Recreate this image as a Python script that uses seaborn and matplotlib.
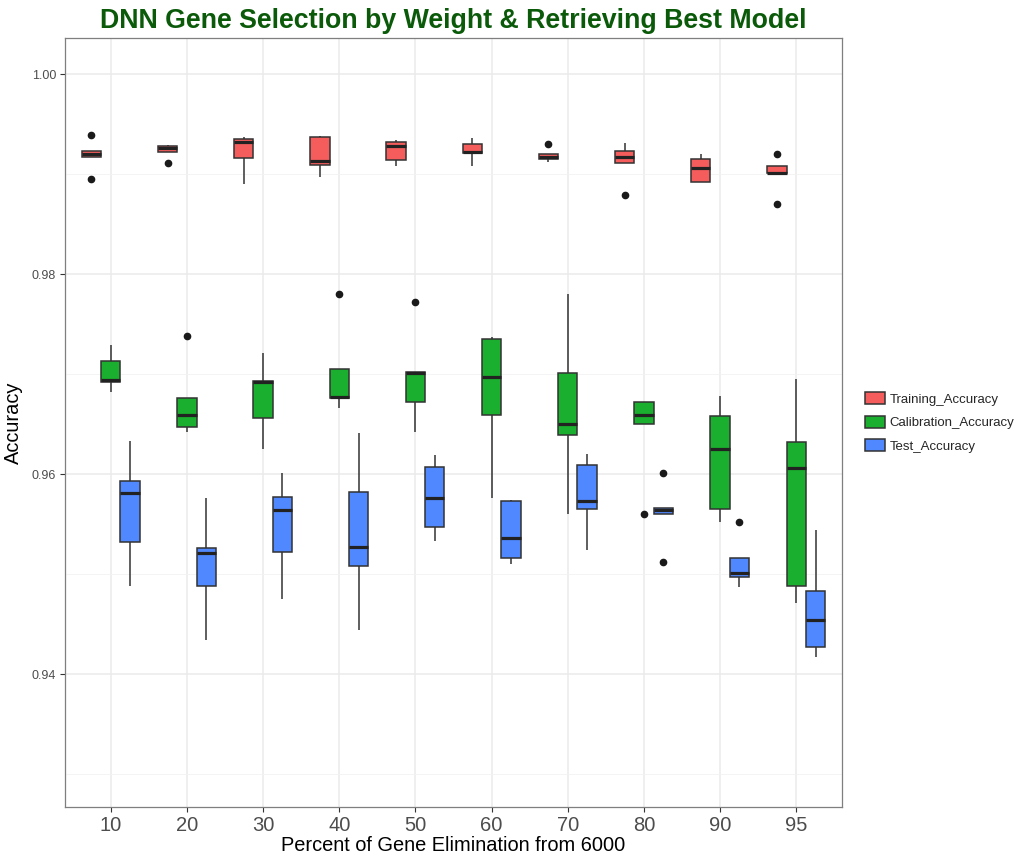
import numpy as np
import pandas as pd
import matplotlib
matplotlib.use("Agg")
import matplotlib.pyplot as plt
import seaborn as sns
from matplotlib.ticker import FixedLocator

categories = ["10", "20", "30", "40", "50", "60", "70", "80", "90", "95"]
metrics = ["Training_Accuracy", "Calibration_Accuracy", "Test_Accuracy"]

training = [
    [0.9895, 0.9917, 0.9920, 0.9923, 0.9939],
    [0.9911, 0.9922, 0.9926, 0.9928, 0.9929],
    [0.9890, 0.9916, 0.9932, 0.9935, 0.9937],
    [0.9897, 0.9909, 0.9913, 0.9937, 0.9938],
    [0.9908, 0.9914, 0.9928, 0.9932, 0.9934],
    [0.9908, 0.9921, 0.9922, 0.9930, 0.9936],
    [0.9912, 0.9915, 0.9917, 0.9920, 0.9930],
    [0.9879, 0.9911, 0.9917, 0.9923, 0.9931],
    [0.9892, 0.9892, 0.9906, 0.9915, 0.9920],
    [0.9870, 0.9901, 0.9901, 0.9908, 0.9920],
]
calibration = [
    [0.9682, 0.9692, 0.9694, 0.9713, 0.9729],
    [0.9642, 0.9647, 0.9659, 0.9676, 0.9738],
    [0.9625, 0.9656, 0.9692, 0.9693, 0.9721],
    [0.9666, 0.9676, 0.9677, 0.9705, 0.9780],
    [0.9642, 0.9672, 0.9701, 0.9702, 0.9772],
    [0.9576, 0.9659, 0.9697, 0.9735, 0.9737],
    [0.9560, 0.9639, 0.9650, 0.9701, 0.9780],
    [0.9560, 0.9650, 0.9659, 0.9672, 0.9672],
    [0.9552, 0.9565, 0.9625, 0.9658, 0.9678],
    [0.9471, 0.9488, 0.9606, 0.9632, 0.9695],
]
test = [
    [0.9488, 0.9532, 0.9581, 0.9593, 0.9633],
    [0.9434, 0.9488, 0.9521, 0.9526, 0.9576],
    [0.9475, 0.9522, 0.9564, 0.9577, 0.9601],
    [0.9444, 0.9508, 0.9527, 0.9582, 0.9641],
    [0.9533, 0.9547, 0.9576, 0.9607, 0.9619],
    [0.9510, 0.9516, 0.9536, 0.9573, 0.9574],
    [0.9524, 0.9565, 0.9573, 0.9609, 0.9620],
    [0.9512, 0.9560, 0.9564, 0.9566, 0.9601],
    [0.9487, 0.9497, 0.9501, 0.9516, 0.9552],
    [0.9417, 0.9427, 0.9454, 0.9483, 0.9544],
]
colors = ["#F45D5C", "#1AAF2E", "#5088FF"]

rows = []
for metric, series in zip(metrics, [training, calibration, test]):
    for cat, vals in zip(categories, series):
        for v in vals:
            rows.append({"Percent": cat, "Accuracy": v, "Metric": metric})
df = pd.DataFrame(rows)

sns.set_style("white")
plt.rcParams["font.family"] = ["Liberation Sans", "DejaVu Sans"]

fig = plt.figure(figsize=(10.32, 8.58), dpi=100)
ax = fig.add_axes([65 / 1032, 1 - 807 / 858, (842 - 65) / 1032, (807 - 38) / 858])

sns.boxplot(
    data=df, x="Percent", y="Accuracy", hue="Metric",
    order=categories, hue_order=metrics, palette=colors,
    width=0.76, gap=0, saturation=1, whis=1.5,
    linecolor="#333333", linewidth=1.1, showcaps=False,
    flierprops=dict(marker="o", markerfacecolor="#1a1a1a",
                    markeredgecolor="#1a1a1a", markersize=4.5),
    medianprops=dict(linewidth=2.3, color="#222222"),
    whiskerprops=dict(color="#333333", linewidth=1.1),
    ax=ax, zorder=3,
)

ax.set_xlim(-0.6, 9.6)
ax.set_ylim(0.9267, 1.0036)
ax.yaxis.set_major_locator(FixedLocator([0.94, 0.96, 0.98, 1.00]))
ax.set_yticklabels(["0.94", "0.96", "0.98", "1.00"])
ax.yaxis.set_minor_locator(FixedLocator([0.93, 0.95, 0.97, 0.99]))
ax.grid(True, which="major", color="#EBEBEB", linewidth=1.1, zorder=0)
ax.grid(True, which="minor", axis="y", color="#F2F2F2", linewidth=0.6, zorder=0)
ax.set_axisbelow(True)
for s in ax.spines.values():
    s.set_color("#7F7F7F")
    s.set_linewidth(0.9)
ax.tick_params(axis="both", which="major", length=3.5, width=0.8, color="#333333",
               direction="out", bottom=True, left=True)
ax.tick_params(axis="y", which="minor", length=0, left=False)
ax.tick_params(axis="x", labelsize=14.5, labelcolor="#4D4D4D", pad=3)
ax.tick_params(axis="y", labelsize=9, labelcolor="#4D4D4D", pad=3)

ax.set_xlabel("Percent of Gene Elimination from 6000", fontsize=14.4, color="black", labelpad=1)
ax.set_ylabel("Accuracy", fontsize=14.4, color="black", labelpad=6)
ax.set_title("DNN Gene Selection by Weight & Retrieving Best Model",
             fontsize=19.3, fontweight="bold", color="#0A5A0A", pad=7)

sns.move_legend(ax, "center left", bbox_to_anchor=(1.03, 0.5), frameon=False,
                title=None, fontsize=9.5, borderaxespad=0, borderpad=0,
                handlelength=1.5, handleheight=1.05, labelspacing=0.75,
                handletextpad=0.35)

fig.savefig("out.png", dpi=100)
